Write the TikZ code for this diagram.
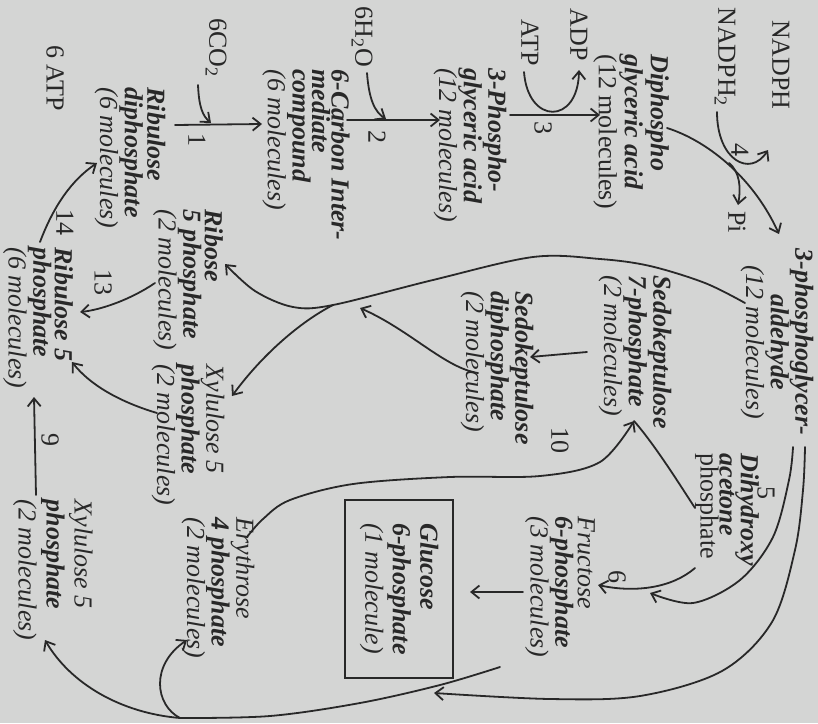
\documentclass[tikz,border=0pt]{standalone}
\usepackage{fontspec}
\setmainfont{Liberation Serif}
\usetikzlibrary{arrows.meta}
\definecolor{bg}{RGB}{212,213,212}
\definecolor{ink}{RGB}{40,40,40}
\newcommand{\BI}[1]{\textbf{\textit{#1}}}
\newcommand{\IT}[1]{\textit{#1}}
\begin{document}
\begin{tikzpicture}[x=1pt,y=-1pt,
  lbl/.style={rotate=-90, inner sep=0pt, align=left, text=ink, font=\fontsize{26}{#1}\selectfont},
  lbl/.default=22,
  num/.style={rotate=-90, inner sep=0pt, text=ink, font=\fontsize{26}{26}\selectfont},
  conn/.style={draw=ink, line width=1.8pt, line cap=round},
  tip/.style={-{Straight Barb[length=8pt,width=13pt]}}]
\useasboundingbox (0,0) rectangle (818,723);
\fill[bg] (0,0) rectangle (818,723);

% ---- side substances (top row) ----
\node[lbl] (nadph)  at (781,65) {NADPH};
\node[lbl] (nadph2) at (725,57) {NADPH\textsubscript{2}};
\node[lbl] (adp)    at (579,35) {ADP};
\node[lbl] (atp)    at (530,43) {ATP};
\node[lbl] (h2o)    at (362,37) {6H\textsubscript{2}O};
\node[lbl] (co2)    at (216,48) {6CO\textsubscript{2}};
\node[lbl] (atp6)   at (55,78)  {6 ATP};

% ---- compounds ----
\node[lbl=26]   (dpga) at (631,132) {\BI{Diphospho}\\\BI{glyceric acid}\\(12 molecules)};
\node[lbl=22]   (pga)  at (470,145) {\BI{3-Phospho-}\\\BI{glyceric acid}\\\IT{(12 molecules)}};
\node[lbl=19.5] (c6)   at (306,155) {\BI{6-Carbon Inter-}\\\BI{mediate}\\\BI{compound}\\\IT{(6 molecules)}};
\node[lbl=22.5] (rudp) at (130,158) {\BI{Ribulose}\\\BI{diphosphate}\\\IT{(6 molecules)}};
\node[lbl=21.5] (r5p)  at (188,280) {\BI{Ribose}\\\BI{5 phosphate}\\\IT{(2 molecules)}};
\node[lbl=21.5] (ru5p) at (38,318)  {\BI{Ribulose 5}\\\BI{phosphate}\\\IT{(6 molecules)}};
\node[lbl=21]   (x5pa) at (188,435) {\IT{Xylulose 5}\\\BI{phosphate}\\\IT{(2 molecules)}};
\node[lbl=28]   (x5pb) at (53,570)  {\IT{Xylulose 5}\\\BI{phosphate}\\\IT{(2 molecules)}};
\node[lbl=23.5] (e4p)  at (218,588) {\IT{Erythrose}\\\BI{4 phosphate}\\\IT{(2 molecules)}};
\node[lbl=27.5, draw=ink, line width=1.8pt, minimum width=178pt, minimum height=108pt]
                (g6p)  at (399,589) {\BI{Glucose}\\\BI{6-phosphate}\\\IT{(1 molecule)}};
\node[lbl=22.5] (f6p)  at (560,587) {\IT{Fructose}\\\BI{6-phosphate}\\\IT{(3 molecules)}};
\node[lbl=19]   (dhap) at (727,510) {\BI{Dihydroxy}\\\BI{acetone}\\phosphate};
\node[lbl=21.5] (s7p)  at (635,352) {\BI{Sedokeptulose}\\\BI{7-phosphate}\\\IT{(2 molecules)}};
\node[lbl=21]   (sdp)  at (497,368) {\BI{Sedokeptulose}\\\BI{diphosphate}\\\IT{(2 molecules)}};
\node[lbl=22.5, align=center] (gap) at (777,342) {\BI{3-phosphoglycer-}\\\BI{aldehyde}\\\IT{(12 molecules)}};

% ---- numbers ----
\node[num] (pi)  at (737,222) {Pi};
\node[num] (n4)  at (740,150) {4};
\node[num] (n3)  at (543,128) {3};
\node[num] (n2)  at (377,137) {2};
\node[num] (n1)  at (197,140) {1};
\node[num] (n14) at (65,222)  {14};
\node[num] (n13) at (103,282) {13};
\node[num] (n9)  at (50,440)  {9};
\node[num] (n10) at (560,440) {10};
\node[num] (n6)  at (617,577) {6};
\node[num] (n5)  at (766,493) {5};

% ---- connector end points ----
\coordinate (a4s) at (667,128);  \coordinate (a4e) at (779,234);
\coordinate (nds) at (717,112);  \coordinate (nde) at (768,150);
\coordinate (pis) at (729,163);  \coordinate (pie) at (738,205);
\coordinate (a3s) at (510,115);  \coordinate (a3e) at (600,115);
\coordinate (ats) at (524,72);   \coordinate (ate) at (579,70);
\coordinate (a2s) at (347,120);  \coordinate (a2e) at (440,120);
\coordinate (hs)  at (367,73);   \coordinate (he)  at (386,119);
\coordinate (a1s) at (175,125);  \coordinate (a1e) at (262,124);
\coordinate (cs)  at (198,85);   \coordinate (ce)  at (211,123);
\coordinate (a14s) at (40,242);  \coordinate (a14e) at (97,163);
\coordinate (a13s) at (155,283); \coordinate (a13e) at (80,312);
\coordinate (xrs) at (157,413);  \coordinate (xre) at (72,362);
\coordinate (a9s) at (36,495);   \coordinate (a9e) at (34,397);
\coordinate (gs)  at (745,303);  \coordinate (jn)  at (333,305);  \coordinate (re) at (225,264);
\coordinate (xe)  at (232,396);
\coordinate (sds) at (478,373);  \coordinate (sde) at (360,308);
\coordinate (a10s) at (587,352); \coordinate (a10e) at (530,357);
\coordinate (es)  at (247,537);  \coordinate (ee)  at (634,421);
\coordinate (ds)  at (695,508);
\coordinate (go)  at (805,447);  \coordinate (goe) at (434,693);
\coordinate (gi)  at (793,447);  \coordinate (gie) at (650,593);
\coordinate (d6s) at (695,568);  \coordinate (d6e) at (598,585);
\coordinate (fgs) at (523,592);  \coordinate (fge) at (470,592);
\coordinate (fbs) at (500,667);  \coordinate (br)  at (180,718);
\coordinate (ehe) at (187,640);  \coordinate (xbe) at (45,640);

% ---- connectors ----
\draw[conn,tip] (a4s) .. controls (705,140) and (752,175) .. (a4e);
\draw[conn,tip] (nds) .. controls (717,160) and (750,178) .. (nde);
\draw[conn,tip] (pis) .. controls (740,172) and (741,188) .. (pie);
\draw[conn,tip] (a3s) -- (a3e);
\draw[conn,tip] (ats) .. controls (528,125) and (578,125) .. (ate);
\draw[conn,tip] (a2s) -- (a2e);
\draw[conn,tip] (hs) .. controls (369,100) and (375,112) .. (he);
\draw[conn,tip] (a1s) -- (a1e);
\draw[conn,tip] (cs) .. controls (199,108) and (203,116) .. (ce);
\draw[conn,tip] (a14s) .. controls (54,205) and (72,180) .. (a14e);
\draw[conn,tip] (a13s) .. controls (130,300) and (100,310) .. (a13e);
\draw[conn,tip] (xrs) .. controls (120,402) and (90,385) .. (xre);
\draw[conn,tip] (a9s) -- (a9e);
\draw[conn,tip] plot[smooth,tension=0.55] coordinates
  {(gs) (705,283) (650,266) (600,259) (533,257) (433,280) (jn) (293,307) (255,291) (re)};
\draw[conn,tip] (jn) .. controls (300,322) and (262,355) .. (xe);
\draw[conn,tip] (sds) .. controls (445,368) and (410,330) .. (sde);
\draw[conn,tip] (a10s) -- (a10e);
\draw[conn,tip] plot[smooth,tension=0.55] coordinates
  {(es) (263,519) (290,500) (353,484) (450,477) (540,476) (600,462) (ee)};
\draw[conn] (ds) .. controls (680,485) and (655,445) .. (ee);
\draw[conn,tip] plot[smooth,tension=0.55] coordinates
  {(go) (803,490) (795,550) (772,622) (722,671) (640,696) (550,699) (goe)};
\draw[conn,tip] plot[smooth,tension=0.55] coordinates
  {(gi) (789,480) (773,537) (740,580) (693,603) (gie)};
\draw[conn,tip] (d6s) .. controls (672,588) and (635,593) .. (d6e);
\draw[conn,tip] (fgs) -- (fge);
\draw[conn] plot[smooth,tension=0.55] coordinates
  {(fbs) (440,685) (360,703) (270,716) (br)};
\draw[conn,tip] (br) .. controls (155,705) and (150,665) .. (ehe);
\draw[conn,tip] (br) .. controls (120,713) and (70,683) .. (xbe);
\end{tikzpicture}
\end{document}
